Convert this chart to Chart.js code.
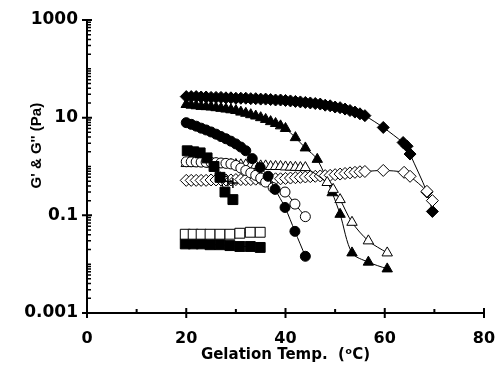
<!DOCTYPE html>
<html>
<head>
<meta charset="utf-8">
<title>Gelation</title>
<script src="https://cdn.jsdelivr.net/npm/chart.js@4/dist/chart.umd.min.js"></script>
<style>
  html, body { margin: 0; padding: 0; background: #fff; }
</style>
</head>
<body>
<canvas id="my_chart" width="495" height="373"></canvas>
<script>
// axis ticks
const xTicks = [0, 20, 40, 60, 80];
const xMinorTicks = [10, 30, 50, 70];
const yTicks = [0.001, 0.1, 10, 1000];

// filled diamonds
const dfT = [20,21,22,23,24,25,26,27,28,29,30,31,32,33,34,35,36,37,38,39,40,41,42,43,44,45,46,47,48,49,50,51,52,53,54,55,56,59.7,63.7,64.5,65.1,68.5,69.6];
const dfG = [27,27,27,26.5,26.5,26,26,26,25.5,25.5,25,25,25,24.5,24.5,24,24,23.5,23,23,22.5,22,21.5,21,20.5,20,19.5,19,18,17.5,16.5,16,15,14,13,12,11,6.3,3.1,2.6,1.8,0.3,0.12];
// open diamonds
const doT = [20,21,22,23,24,25,26,27,28,29,30,31,32,33,34,35,36,37,38,39,40,41,42,43,44,45,46,47,48,49,50,51,52,53,54,55,56,59.7,63.9,65.1,68.5,69.6];
const doG = [0.52,0.52,0.52,0.52,0.52,0.53,0.53,0.53,0.53,0.53,0.54,0.54,0.54,0.54,0.55,0.55,0.55,0.56,0.56,0.56,0.57,0.58,0.59,0.6,0.61,0.62,0.63,0.64,0.65,0.66,0.68,0.7,0.72,0.74,0.76,0.78,0.79,0.83,0.76,0.63,0.31,0.2];

// filled triangles
const tfT = [20,21,22,23,24,25,26,27,28,29,30,31,32,33,34,35,36,37,38,39,40,42,44,46.4,49.4,51,53.4,56.7,60.5];
const tfG = [18.6,18,17.5,17,16.8,16.5,16,15.5,15,14.5,14,13,12.3,11.5,10.8,10,9.2,8.3,7.6,6.8,6,3.9,2.4,1.4,0.29,0.105,0.017,0.011,0.008];
// open triangles
const toT = [20,21,22,23,24,25,26,27,28,29,30,31,32,33,34,35,36,37,38,39,40,41,42,43,44,48.4,49.6,51,53.4,56.7,60.5];
const toG = [1.15,1.15,1.15,1.15,1.15,1.12,1.12,1.12,1.1,1.1,1.1,1.08,1.08,1.05,1.05,1.03,1.03,1,1,1,0.98,0.97,0.96,0.95,0.95,0.47,0.34,0.21,0.072,0.03,0.017];

// filled circles
const cfT = [20,21,22,23,24,25,26,27,28,29,30,31,32,33.3,34.9,36.5,37.9,39.9,41.9,44];
const cfG = [7.9,7.3,6.7,6.1,5.6,5.1,4.6,4.1,3.7,3.3,2.9,2.5,2.1,1.45,0.95,0.63,0.34,0.145,0.047,0.0145];
// open circles
const coT = [20,21,22,23,24,25,26,27,28,29,30,31,32,33,34,35,36,37.5,39.9,41.9,44];
const coG = [1.25,1.25,1.24,1.23,1.22,1.21,1.2,1.18,1.16,1.13,1.05,0.93,0.83,0.74,0.66,0.58,0.48,0.37,0.3,0.17,0.094];

// filled squares (upper), plus and dash marks
const sfT = [20.2,21.5,22.8,24.2,25.6,26.8,27.8,29.4];
const sfG = [2.1,2.0,1.9,1.5,1.0,0.6,0.3,0.21];
const plusT = [28.4,29.4];
const plusG = [0.5,0.46];
const dashT = [24.8,26.2,27.4];
const dashG = [0.95,0.76,0.63];

// squares near the bottom
const sqT = [19.8,21.4,23.0,24.8,26.8,28.8,30.8,32.9,34.9];
const sqOpenG = [0.041,0.041,0.041,0.041,0.041,0.041,0.043,0.045,0.045];
const sqFillG = [0.026,0.026,0.026,0.025,0.025,0.024,0.023,0.023,0.022];

function pts(t, g) {
  return t.map((v, i) => ({ x: v, y: g[i] }));
}

function series(t, g, style, r, filled, extra) {
  return Object.assign({
    data: pts(t, g),
    showLine: true,
    borderColor: '#000',
    borderWidth: 1,
    backgroundColor: filled ? '#000' : '#fff',
    pointStyle: style,
    pointRadius: r,
    pointBorderWidth: 1,
    tension: 0.3
  }, extra || {});
}

// tick marks drawn on the axes
const axisTicks = {
  id: 'axisTicks',
  afterDraw(chart) {
    const ctx = chart.ctx;
    const area = chart.chartArea;
    const xs = chart.scales.x, ys = chart.scales.y;
    ctx.save();
    ctx.strokeStyle = '#000';
    ctx.lineWidth = 2;
    ctx.beginPath();
    xTicks.forEach(v => {
      const p = xs.getPixelForValue(v);
      ctx.moveTo(p, area.bottom - 5); ctx.lineTo(p, area.bottom + 5);
    });
    xMinorTicks.forEach(v => {
      const p = xs.getPixelForValue(v);
      ctx.moveTo(p, area.bottom - 4); ctx.lineTo(p, area.bottom);
    });
    yTicks.forEach(v => {
      const p = ys.getPixelForValue(v);
      ctx.moveTo(area.left - 5, p); ctx.lineTo(area.left + 5, p);
    });
    ctx.stroke();
    ctx.lineWidth = 1.5;
    ctx.beginPath();
    for (let e = -3; e < 3; e++) {
      for (let m = 1; m < 10; m++) {
        const v = m * Math.pow(10, e);
        if (m === 1 && e % 2 !== 0) continue;
        const p = ys.getPixelForValue(v);
        ctx.moveTo(area.left, p); ctx.lineTo(area.left + 4, p);
      }
    }
    ctx.stroke();
    ctx.restore();
  }
};

Chart.defaults.color = '#000';

const my_chart = document.getElementById('my_chart').getContext('2d');
const chart = new Chart(my_chart, {
  type: 'scatter',
  data: {
    datasets: [
      series(cfT, cfG, 'circle', 5, true),
      series(sfT, sfG, 'rect', 7, true),
      series(plusT, plusG, 'cross', 5, true, { showLine: false, pointBorderWidth: 1.5 }),
      series(dashT, dashG, 'dash', 4, true, { showLine: false, pointBorderWidth: 1.5 }),
      series(coT, coG, 'circle', 5, false),
      series(toT, toG, 'triangle', 6, false),
      series(doT, doG, 'rectRot', 6, false),
      series(tfT, tfG, 'triangle', 6, true),
      series(dfT, dfG, 'rectRot', 6, true),
      series(sqT, sqOpenG, 'rect', 7, false),
      series(sqT, sqFillG, 'rect', 7, true)
    ]
  },
  options: {
    responsive: false,
    animation: false,
    layout: { padding: { top: 20, right: 11, left: 0, bottom: 0 } },
    plugins: { legend: { display: false }, tooltip: { enabled: false } },
    scales: {
      x: {
        type: 'linear',
        min: 0, max: 80,
        afterBuildTicks: s => { s.ticks = xTicks.map(v => ({ value: v })); },
        afterFit: s => { s.height = 60; s.paddingLeft = 0; s.paddingRight = 0; },
        grid: { display: false, drawTicks: false },
        border: { display: true, color: '#000', width: 2 },
        ticks: { padding: 16, font: { family: 'DejaVu Sans', weight: 'bold', size: 16 }, color: '#000' },
        title: {
          display: true,
          text: 'Gelation Temp.  (ᵒC)',
          font: { family: 'DejaVu Sans', weight: 'bold', size: 15 },
          color: '#000',
          padding: { top: 0, bottom: 9 }
        }
      },
      y: {
        type: 'logarithmic',
        min: 0.001, max: 1000,
        afterBuildTicks: s => { s.ticks = yTicks.map(v => ({ value: v })); },
        afterFit: s => { s.width = 87; s.paddingTop = 0; s.paddingBottom = 0; },
        grid: { display: false, drawTicks: false },
        border: { display: true, color: '#000', width: 2 },
        ticks: {
          padding: 9,
          autoSkip: false,
          font: { family: 'DejaVu Sans', weight: 'bold', size: 17 },
          color: '#000',
          callback: v => String(v)
        },
        title: {
          display: true,
          text: "          G' & G'' (Pa)",
          font: { family: 'Liberation Sans', weight: 'bold', size: 15 },
          color: '#000',
          padding: { top: 28, bottom: 0 }
        }
      }
    }
  },
  plugins: [axisTicks]
});
</script>
</body>
</html>
